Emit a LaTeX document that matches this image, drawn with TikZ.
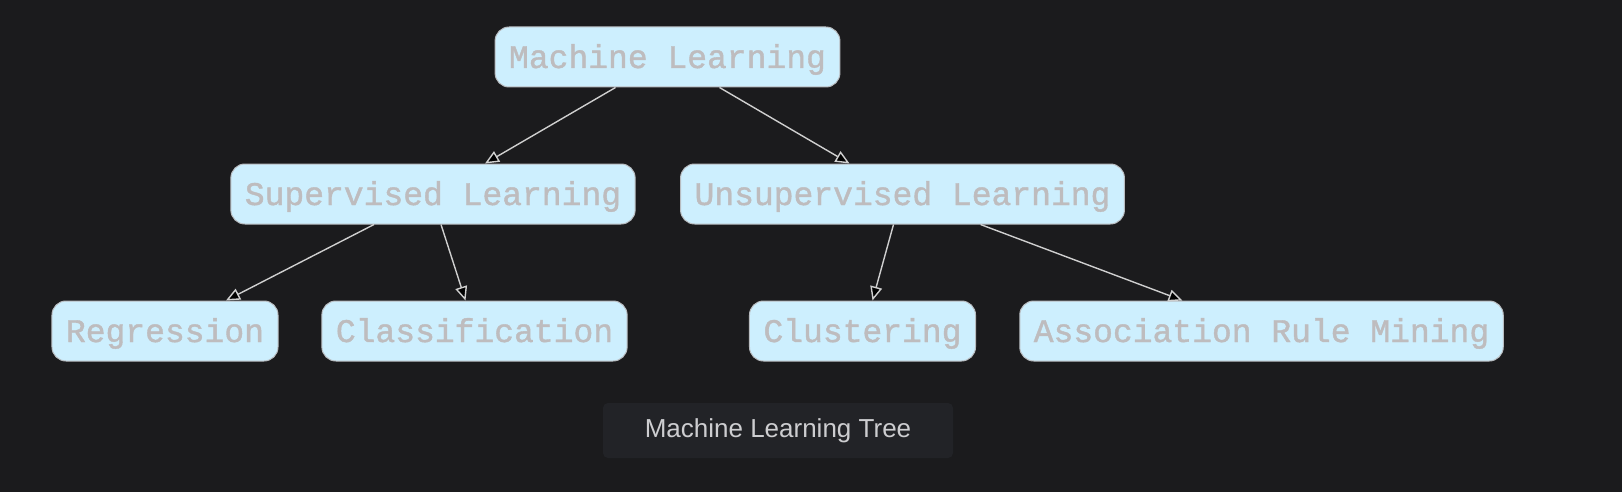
\documentclass[tikz,border=0pt]{standalone}
\usepackage{fontspec}
\setmainfont{Liberation Sans}
\newfontfamily\monofont[FakeBold=1.2]{Liberation Mono}
\usepackage{tikz}
\usetikzlibrary{arrows.meta}

\definecolor{bgdark}{HTML}{1B1B1D}
\definecolor{boxfill}{HTML}{CDEFFE}
\definecolor{boxline}{HTML}{B8BCC0}
\definecolor{boxtext}{HTML}{BEBCBE}
\definecolor{edgeline}{HTML}{CFCFCF}
\definecolor{capfill}{HTML}{222327}
\definecolor{captext}{HTML}{CDCDD0}

\tikzset{
  mlbox/.style={draw=boxline, line width=1pt, fill=boxfill, rounded corners=14pt,
    minimum height=60pt, inner xsep=14pt, inner ysep=0pt, text=boxtext,
    text height=26pt, text depth=4pt,
    font=\monofont\fontsize{33}{33}\selectfont},
  mledge/.style={draw=edgeline, line width=1.4pt,
    -{Triangle[length=14pt, width=12pt, fill=black]}},
}

\begin{document}
\begin{tikzpicture}[x=1pt, y=-1pt]

%Background
\fill[bgdark] (0,0) rectangle (1622,492);
\useasboundingbox (0,0) rectangle (1622,492);

%Nodes
\node[mlbox] (ml) at (667.5,57) {Machine Learning};
\node[mlbox] (sup) at (433,194) {Supervised Learning};
\node[mlbox] (unsup) at (902.5,194) {Unsupervised Learning};
\node[mlbox] (reg) at (165,331) {Regression};
\node[mlbox] (cls) at (474.5,331) {Classification};
\node[mlbox] (clu) at (862.5,331) {Clustering};
\node[mlbox] (arm) at (1261.5,331) {Association Rule Mining};

%Edges
\draw[mledge] ([xshift=-52pt]ml.south) -- ([xshift=52pt]sup.north);
\draw[mledge] ([xshift=52pt]ml.south) -- ([xshift=-53pt]unsup.north);
\draw[mledge] ([xshift=-59pt]sup.south) -- ([xshift=61pt]reg.north);
\draw[mledge] ([xshift=8pt]sup.south) -- ([xshift=-9pt]cls.north);
\draw[mledge] ([xshift=-9pt]unsup.south) -- ([xshift=10pt]clu.north);
\draw[mledge] ([xshift=78pt]unsup.south) -- ([xshift=-79pt]arm.north);

%Caption
\node[fill=capfill, rounded corners=5pt, minimum width=350pt, minimum height=55pt,
  text=captext, font=\fontsize{26}{26}\selectfont] (caption) at (778,430.5) {Machine Learning Tree};

\end{tikzpicture}
\end{document}
